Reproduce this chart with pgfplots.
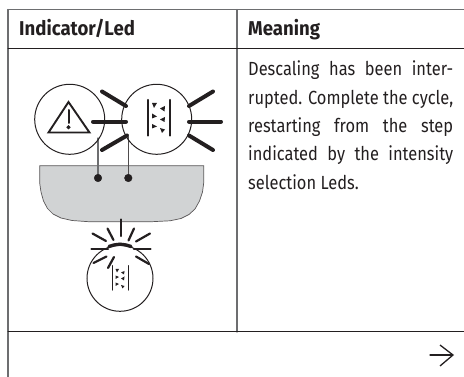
\documentclass[border=0pt]{standalone}
\usepackage{pgfplots}
\pgfplotsset{compat=1.18}
\usepackage{fontspec}
\setmainfont[FakeStretch=0.865,BoldFeatures={FakeStretch=0.93}]{Fira Sans}
\definecolor{ink}{HTML}{231F20}
\definecolor{rulegrey}{HTML}{6D6E70}
\definecolor{bath}{HTML}{D1D3D4}
\newcommand{\seg}[3][ink]{\addplot[draw=#1,line width=#2,line cap=round,mark=none] coordinates {#3};}
\newcommand{\tri}[1]{\addplot[fill=ink,draw=none,mark=none] coordinates {#1} --cycle;}
\newcommand{\ring}[3]{\addplot[only marks,mark=o,mark size=#3pt,mark options={draw=ink,line width=1pt,fill=none}] coordinates {(#1,#2)};}
\newcommand{\blob}[3]{\addplot[only marks,mark=*,mark size=#3pt,mark options={draw=ink,fill=ink}] coordinates {(#1,#2)};}
\newcommand{\bodyline}[2]{\node[anchor=base west,inner sep=0pt,text=ink,font=\fontsize{19}{20}\selectfont] at (axis cs:248,#1) {\makebox[205pt][s]{#2}};}
\begin{document}
\begin{tikzpicture}
\path[use as bounding box] (0,0) rectangle (464pt,377pt);
\begin{axis}[at={(0,0)},anchor=south west,scale only axis,width=464pt,height=377pt,
  xmin=0,xmax=464,ymin=0,ymax=377,y dir=reverse,axis lines=none,clip=false]
% table rules
\seg[rulegrey]{1.2pt}{(8,9.5) (464,9.5)}
\seg[rulegrey]{1.2pt}{(8,9.5) (8,377)}
\seg[rulegrey]{1.2pt}{(237,9.5) (237,332)}
\seg{1pt}{(8,48.5) (464,48.5)}
\seg{1pt}{(8,332) (464,332)}
% bath
\addplot[fill=bath,draw=ink!75,line width=0.7pt,mark=none] coordinates {(39.7,165.7) (39.7,183) (41,192) (43.5,201) (47.5,208.5) (53,214) (61,218) (72,220.5) (90,221.8) (150,221.8) (170,220.8) (181,218.5) (189,214.5) (195,209) (199.5,201) (202.5,192) (203.7,183) (203.7,165.7)} --cycle;
% circles
\ring{69.7}{119.3}{35}
\ring{156.7}{119.3}{35}
% warning triangle
\addplot[draw=ink,line width=1.9pt,mark=none,line join=miter] coordinates {(68.5,102) (48.5,132.5) (89.5,132.5)} --cycle;
\seg{2pt}{(68.5,110) (68.5,123)}
\blob{68.5}{127.3}{1.8}
% rays large
\seg{4pt}{(102,91.5) (126,106)}
\seg{4pt}{(93,121.7) (126,121.7)}
\seg{4pt}{(102,150) (127,135.5)}
\seg{4pt}{(189,106) (213,91.5)}
\seg{4pt}{(189,121.7) (221,121.7)}
\seg{4pt}{(189,135.5) (213,150)}
% descale icon large
\seg{2.2pt}{(147.7,100) (147.7,135.5)}
\seg{2.2pt}{(169.7,100) (169.7,135.5)}
\tri{(152,103) (157,103) (154,108)}
\tri{(165,106) (160,108.5) (164.5,111.5)}
\tri{(152,113.5) (157,116.5) (152,118.5)}
\tri{(165,117) (160,119.5) (164.5,122)}
\tri{(152,124) (157,126.5) (152,128.5)}
\tri{(160,128) (165,129.5) (162,133)}
% connectors
\seg[rulegrey]{1.2pt}{(98,138) (98,178)}
\seg[ink!80]{1.2pt}{(128.3,136) (128.3,178)}
\blob{98}{178}{3.8}
\blob{128.3}{178}{3.8}
% bottom led
\ring{120}{278.3}{33}
\seg{3.4pt}{(109,246.5) (114,245) (120,244.2) (126,245) (131,246.5)}
\seg{2.2pt}{(120.7,219.5) (120.7,236)}
\seg{2.2pt}{(107.5,228.5) (113.5,240)}
\seg{2.2pt}{(92.5,233.5) (106,241)}
\seg{2.2pt}{(91.5,249) (108,249)}
\seg{2.2pt}{(134,249) (150.5,249)}
\seg{2.2pt}{(128.5,240.5) (134,228.5)}
\seg{2.2pt}{(136,241.5) (150,233.5)}
\seg{2.2pt}{(93.5,263) (106.5,256.5)}
\seg{2.2pt}{(108,268) (114,257)}
\seg{2.2pt}{(136,256.5) (149,264)}
\seg{1.1pt}{(112.3,265.7) (112.3,290)}
\seg{1.1pt}{(128.3,265.7) (128.3,290)}
\tri{(115.5,269) (119,269) (117,272.5)}
\tri{(124.5,271) (121,272.5) (124,274.5)}
\tri{(115.5,275.5) (119,277) (115.5,279)}
\tri{(124.5,276.5) (121,278.5) (124,280.5)}
\tri{(115.5,282.5) (119,284) (115.5,286)}
\tri{(121,285) (124.5,286) (122.5,288.5)}
% arrow
\seg{1.3pt}{(430,355) (452.5,355)}
\addplot[draw=ink,line width=1.3pt,mark=none] coordinates {(440,345) (453,355) (440,366)};
% text
\node[anchor=base west,inner sep=0pt,text=ink,font=\fontsize{20}{21}\selectfont\bfseries] at (axis cs:19,36) {Indicator/Led};
\node[anchor=base west,inner sep=0pt,text=ink,font=\fontsize{20}{21}\selectfont\bfseries] at (axis cs:248,36) {Meaning};
\bodyline{76}{Descaling has been inter-}
\bodyline{104.3}{rupted. Complete the cycle,}
\bodyline{132.7}{restarting from the step}
\bodyline{161}{indicated by the intensity}
\node[anchor=base west,inner sep=0pt,text=ink,font=\fontsize{19}{20}\selectfont] at (axis cs:248,189.5) {selection Leds.};
\end{axis}
\end{tikzpicture}
\end{document}
